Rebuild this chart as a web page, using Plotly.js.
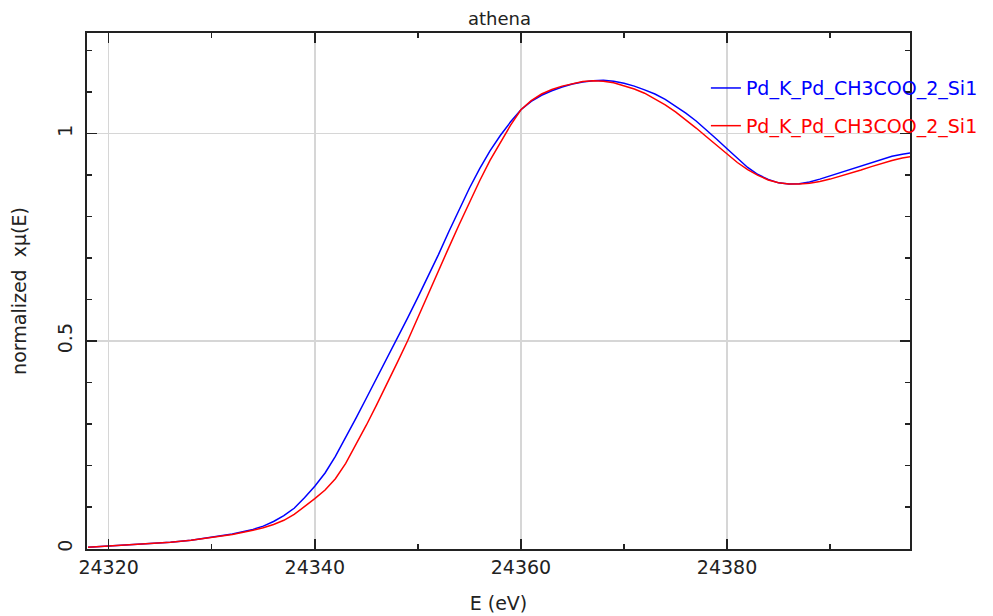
<!DOCTYPE html>
<html>
<head>
<meta charset="utf-8">
<script src="https://cdn.plot.ly/plotly-3.0.1.min.js"></script>
<style>html,body{margin:0;padding:0;background:#fff;}#chart{width:993px;height:616px;}</style>
</head>
<body>
<div id="chart"></div>
<script>
// Energies (eV)
var energy = [24318,24320,24322,24324,24326,24328,24330,24332,24334,24335,24336,24337,24338,24339,
  24340,24341,24342,24343,24344,24345,24346,24347,24348,24349,24350,24351,24352,24353,24354,24355,
  24356,24357,24358,24359,24360,24361,24362,24363,24364,24365,24366,24367,24368,24369,24370,24371,
  24372,24373,24374,24375,24376,24377,24378,24379,24380,24381,24382,24383,24384,24385,24386,24387,
  24388,24389,24390,24391,24392,24393,24394,24395,24396,24397,24398];
// Normalized x-mu(E), first spectrum (blue)
var muBlue = [0.003,0.006,0.008,0.011,0.015,0.020,0.027,0.035,0.046,0.054,0.065,0.079,0.097,0.122,
  0.150,0.182,0.222,0.267,0.314,0.362,0.410,0.458,0.505,0.555,0.605,0.655,0.708,0.763,0.817,0.868,
  0.915,0.958,0.995,1.028,1.057,1.077,1.092,1.103,1.112,1.119,1.124,1.127,1.128,1.126,1.121,1.114,
  1.105,1.095,1.082,1.066,1.049,1.030,1.009,0.986,0.963,0.940,0.918,0.901,0.889,0.881,0.878,0.879,
  0.883,0.890,0.898,0.906,0.914,0.922,0.930,0.938,0.945,0.950,0.954];
// Normalized x-mu(E), second spectrum (red)
var muRed = [0.003,0.006,0.008,0.011,0.015,0.020,0.027,0.034,0.044,0.050,0.058,0.068,0.082,0.100,
  0.120,0.141,0.168,0.205,0.250,0.297,0.346,0.396,0.448,0.500,0.557,0.613,0.669,0.725,0.780,0.834,
  0.886,0.935,0.978,1.020,1.057,1.079,1.095,1.106,1.114,1.120,1.125,1.127,1.126,1.122,1.115,1.107,
  1.097,1.084,1.069,1.052,1.033,1.013,0.992,0.971,0.950,0.930,0.913,0.899,0.888,0.881,0.878,0.878,
  0.880,0.884,0.890,0.897,0.904,0.912,0.920,0.928,0.935,0.941,0.945];
var names = ["Pd_K_Pd_CH3COO_2_Si1", "Pd_K_Pd_CH3COO_2_Si1"];
var colors = ["#0000ff", "#ff0000"];

var font = "DejaVu Sans, sans-serif";
var traces = [
  {x: energy, y: muBlue, type: "scatter", mode: "lines", legendgroup: "a",
   name: '<span style="color:' + colors[0] + '">' + names[0] + '</span>',
   line: {color: colors[0], width: 1.5}},
  {x: energy, y: muRed, type: "scatter", mode: "lines", legendgroup: "b",
   name: '<span style="color:' + colors[1] + '">' + names[1] + '</span>',
   line: {color: colors[1], width: 1.5}}
];
var axisCommon = {
  showline: true, mirror: "allticks", linecolor: "#222", linewidth: 2,
  ticks: "inside", ticklen: 10, tickwidth: 1.5, tickcolor: "#222",
  showgrid: true, gridcolor: "#d6d6d6", gridwidth: 1.5, zeroline: false,
  tickfont: {family: font, size: 19, color: "#222"}
};
var layout = {
  width: 993, height: 616,
  margin: {l: 87, r: 83, t: 33, b: 67, autoexpand: false},
  paper_bgcolor: "#fff", plot_bgcolor: "#fff",
  font: {family: font, color: "#222"},
  title: {text: "athena", font: {family: font, size: 18, color: "#222"}, x: 0.503, xanchor: "center", y: 0.969, yanchor: "middle"},
  xaxis: Object.assign({}, axisCommon, {
    range: [24317.9, 24397.75], tick0: 24320, dtick: 20, tickformat: "d",
    minor: {dtick: 10, ticklen: 5, ticks: "inside", tickcolor: "#222", tickwidth: 1.5, showgrid: false},
    title: {text: "E (eV)", font: {family: font, size: 19, color: "#222"}, standoff: 20}
  }),
  yaxis: Object.assign({}, axisCommon, {
    range: [-0.0012, 1.242], tick0: 0, dtick: 0.5, tickangle: -90, ticklabelstandoff: 5,
    minor: {dtick: 0.1, ticklen: 5, ticks: "inside", tickcolor: "#222", tickwidth: 1.5, showgrid: false},
    title: {text: "normalized  x\u03bc(E)", font: {family: font, size: 19, color: "#222"}, standoff: 23}
  }),
  showlegend: true,
  legend: {x: 0.752, xanchor: "left", y: 0.93, yanchor: "top", bgcolor: "rgba(0,0,0,0)",
    traceorder: "grouped", tracegroupgap: 10,
    font: {family: font, size: 19}}
};
Plotly.newPlot("chart", traces, layout, {displayModeBar: false, staticPlot: true});
</script>
</body>
</html>
